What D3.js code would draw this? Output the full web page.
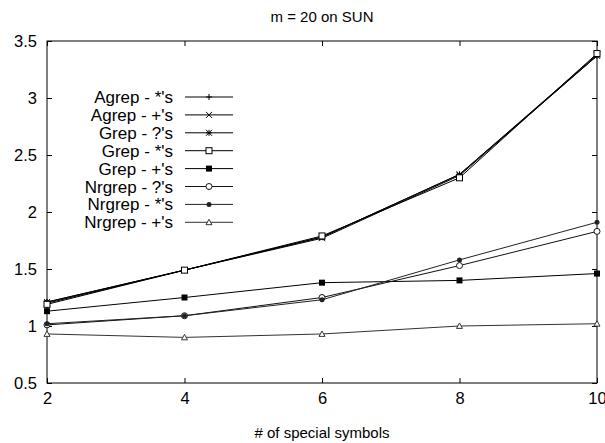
<!DOCTYPE html>
<html>
<head>
<meta charset="utf-8">
<script src="https://cdn.jsdelivr.net/npm/d3@7"></script>
<style>
  body { margin: 0; background: #fff; }
  svg text { font-family: "Liberation Sans", Arial, sans-serif; fill: #000; }
</style>
</head>
<body>
<svg width="605" height="443"></svg>
<script>
let symbols = [2, 4, 6, 8, 10];
let xTicks = [2, 4, 6, 8, 10];
let yTicks = [0.5, 1, 1.5, 2, 2.5, 3, 3.5];

let seriesNames = ["Agrep - *'s", "Agrep - +'s", "Grep - ?'s", "Grep - *'s",
  "Grep - +'s", "Nrgrep - ?'s", "Nrgrep - *'s", "Nrgrep - +'s"];
let agrepStar = [1.21, 1.49, 1.78, 2.33, 3.37];
let agrepPlus = [1.20, 1.49, 1.77, 2.32, 3.37];
let grepQ = [1.21, 1.49, 1.78, 2.33, 3.38];
let grepStar = [1.19, 1.49, 1.79, 2.30, 3.39];
let grepPlus = [1.13, 1.25, 1.38, 1.40, 1.46];
let nrgrepQ = [1.01, 1.09, 1.25, 1.53, 1.83];
let nrgrepStar = [1.02, 1.09, 1.23, 1.58, 1.91];
let nrgrepPlus = [0.93, 0.90, 0.93, 1.00, 1.02];

let allValues = [agrepStar, agrepPlus, grepQ, grepStar, grepPlus, nrgrepQ, nrgrepStar, nrgrepPlus];
let markers = ['plus', 'cross', 'star', 'box', 'fbox', 'circle', 'fcircle', 'triangle'];
let colors = ['#000', '#000', '#000', '#000', '#000', '#111', '#222', '#333'];

let plotLeft = 47, plotRight = 597, plotTop = 41, plotBottom = 383;
let x = d3.scaleLinear().domain([2, 10]).range([plotLeft, plotRight]);
let y = d3.scaleLinear().domain([0.5, 3.5]).range([plotBottom, plotTop]);

let svg = d3.select('svg');

svg.append('text')
  .attr('x', 322).attr('y', 22)
  .attr('text-anchor', 'middle')
  .style('font-size', '15px')
  .text('m = 20 on SUN');

// axes, gnuplot style: inward ticks mirrored on all sides
let axisG = svg.append('g');
axisG.append('g')
  .attr('transform', 'translate(0,' + plotBottom + ')')
  .call(d3.axisBottom(x).tickValues(xTicks).tickSize(-5).tickPadding(9).tickFormat(d3.format('d')));
axisG.append('g')
  .attr('transform', 'translate(0,' + plotTop + ')')
  .call(d3.axisTop(x).tickValues(xTicks).tickSize(-5).tickFormat(''));
axisG.append('g')
  .attr('transform', 'translate(' + plotLeft + ',0)')
  .call(d3.axisLeft(y).tickValues(yTicks).tickSize(-5).tickPadding(10).tickFormat(d3.format('')));
axisG.append('g')
  .attr('transform', 'translate(' + plotRight + ',0)')
  .call(d3.axisRight(y).tickValues(yTicks).tickSize(-5).tickFormat(''));
axisG.selectAll('.domain').remove();
axisG.selectAll('line').attr('stroke', '#000');
axisG.selectAll('text').style('font-size', '16.5px').style('font-family', '"Liberation Sans", Arial, sans-serif');

svg.append('rect')
  .attr('x', plotLeft).attr('y', plotTop)
  .attr('width', plotRight - plotLeft).attr('height', plotBottom - plotTop)
  .attr('fill', 'none').attr('stroke', '#000');

svg.append('text')
  .attr('x', 322).attr('y', 438)
  .attr('text-anchor', 'middle')
  .style('font-size', '15px')
  .text('# of special symbols');

function drawMarker(g, type, cx, cy, color) {
  let s = 3;
  if (type === 'plus') {
    g.append('path').attr('d', `M${cx - s},${cy}H${cx + s}M${cx},${cy - s}V${cy + s}`).attr('stroke', color);
  } else if (type === 'cross') {
    g.append('path').attr('d', `M${cx - s},${cy - s}L${cx + s},${cy + s}M${cx - s},${cy + s}L${cx + s},${cy - s}`).attr('stroke', color);
  } else if (type === 'star') {
    g.append('path').attr('d', `M${cx - s},${cy}H${cx + s}M${cx},${cy - s}V${cy + s}M${cx - s},${cy - s}L${cx + s},${cy + s}M${cx - s},${cy + s}L${cx + s},${cy - s}`).attr('stroke', color);
  } else if (type === 'box') {
    g.append('rect').attr('x', cx - s).attr('y', cy - s).attr('width', 2 * s).attr('height', 2 * s)
      .attr('fill', '#fff').attr('stroke', color);
  } else if (type === 'fbox') {
    g.append('rect').attr('x', cx - s).attr('y', cy - s).attr('width', 2 * s).attr('height', 2 * s)
      .attr('fill', color);
  } else if (type === 'circle') {
    g.append('circle').attr('cx', cx).attr('cy', cy).attr('r', s)
      .attr('fill', '#fff').attr('stroke', color);
  } else if (type === 'fcircle') {
    g.append('circle').attr('cx', cx).attr('cy', cy).attr('r', s - 0.5).attr('fill', color);
  } else if (type === 'triangle') {
    g.append('path').attr('d', `M${cx},${cy - s}L${cx + s},${cy + s * 0.8}L${cx - s},${cy + s * 0.8}Z`)
      .attr('fill', '#fff').attr('stroke', color);
  }
}

let line = d3.line()
  .x(function(d, i) { return x(symbols[i]); })
  .y(function(d) { return y(d); });

let chart = svg.append('g').attr('class', 'chart');
allValues.forEach(function(vals, k) {
  let g = chart.append('g');
  g.append('path')
    .attr('d', line(vals))
    .attr('fill', 'none')
    .attr('stroke', colors[k])
    .attr('stroke-width', 1);
  vals.forEach(function(v, i) {
    drawMarker(g, markers[k], x(symbols[i]), y(v), colors[k]);
  });
});

// legend
let legend = svg.append('g');
seriesNames.forEach(function(name, k) {
  let ly = 97 + k * 17.9;
  legend.append('text')
    .attr('x', 173).attr('y', ly + 6)
    .attr('text-anchor', 'end')
    .style('font-size', '17px')
    .text(name);
  legend.append('line')
    .attr('x1', 185).attr('x2', 233)
    .attr('y1', ly).attr('y2', ly)
    .attr('stroke', colors[k]);
  drawMarker(legend, markers[k], 209, ly, colors[k]);
});
</script>
</body>
</html>
